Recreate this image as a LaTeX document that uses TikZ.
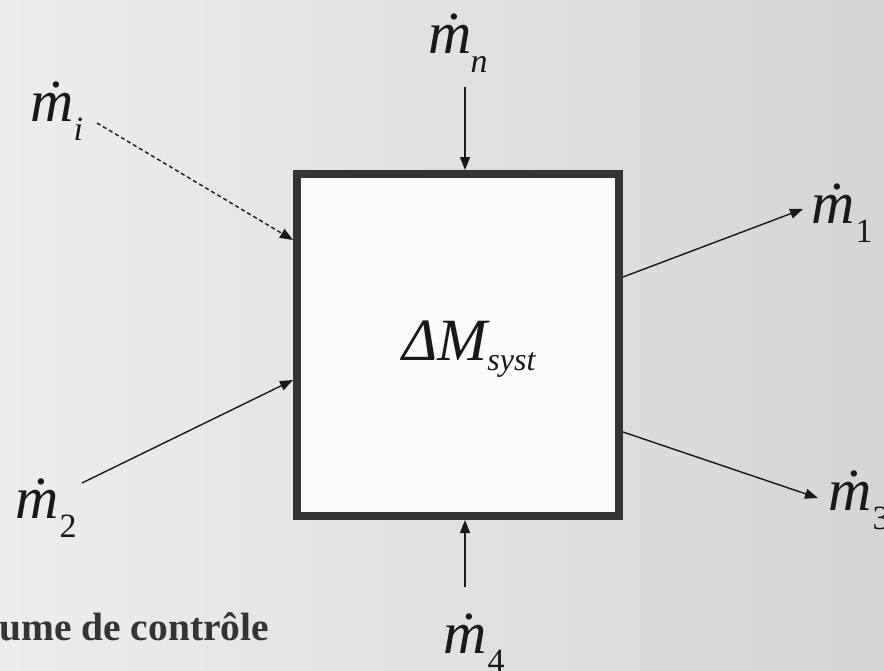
\documentclass[tikz,border=0pt]{standalone}
\usepackage{fontspec}
\setmainfont{Liberation Serif}
\usetikzlibrary{arrows.meta}
\definecolor{bgl}{RGB}{237,237,237}
\definecolor{bgr}{RGB}{213,213,213}
\definecolor{frame}{RGB}{52,52,52}
\definecolor{inner}{RGB}{251,251,251}
\definecolor{ink}{RGB}{25,25,25}
\newcommand\mlab[2]{\fontsize{60}{60}\selectfont\itshape ṁ\kern#2\raisebox{-19pt}{\fontsize{34}{34}\selectfont #1}}
\begin{document}
\begin{tikzpicture}[x=1pt,y=-1pt,
  flowlabel/.style={inner sep=0pt,anchor=base west,text=ink},
  flowarrow/.style={draw=ink,line width=1.4pt,-{Triangle[length=13pt,width=10pt]}},
  dashedflow/.style={flowarrow,dash pattern=on 4pt off 3pt}]
\useasboundingbox (0,0) rectangle (884,670);
\fill[left color=bgl,right color=bgr] (0,0) rectangle (884,670);
% control volume
\node[draw=frame,fill=inner,line width=8pt,minimum width=322pt,minimum height=342pt,inner sep=0pt] (box) at (458,345) {};
\node[inner sep=0pt,anchor=base west,text=ink] (dm) at (402,360)
  {\fontsize{60}{60}\selectfont\itshape ΔM\kern0pt\raisebox{-10pt}{\fontsize{32}{32}\selectfont syst}};
% labels
\node[flowlabel] (mi) at (30,121) {\mlab{i}{0pt}};
\node[flowlabel] (mn) at (428,53) {\mlab{n}{-1pt}};
\node[flowlabel] (m1) at (811,223) {\mlab{\textup{1}}{1pt}};
\node[flowlabel] (m3) at (828,510) {\mlab{\textup{3}}{1pt}};
\node[flowlabel] (m2) at (15,518) {\mlab{\textup{2}}{1pt}};
\node[flowlabel] (m4) at (443,653) {\mlab{\textup{4}}{1pt}};
% connector end points
\coordinate (si) at (97,123);
\coordinate (ei) at (293,240);
\coordinate (sn) at (465,87);
\coordinate (en) at (465,170);
\coordinate (s1) at (623,277);
\coordinate (e1) at (803,209);
\coordinate (s3) at (623,432);
\coordinate (e3) at (818,498);
\coordinate (s2) at (82,483);
\coordinate (e2) at (293,380);
\coordinate (s4) at (465,587);
\coordinate (e4) at (465,520);
\draw[dashedflow] (si) -- (ei);
\draw[flowarrow] (sn) -- (en);
\draw[flowarrow] (s1) -- (e1);
\draw[flowarrow] (s3) -- (e3);
\draw[flowarrow] (s2) -- (e2);
\draw[flowarrow] (s4) -- (e4);
% caption fragment
\node[inner sep=0pt,anchor=base west,text=frame] (cap) at (-1,640)
  {\fontsize{39.5}{39.5}\selectfont\bfseries ume de contrôle};
\end{tikzpicture}
\end{document}
